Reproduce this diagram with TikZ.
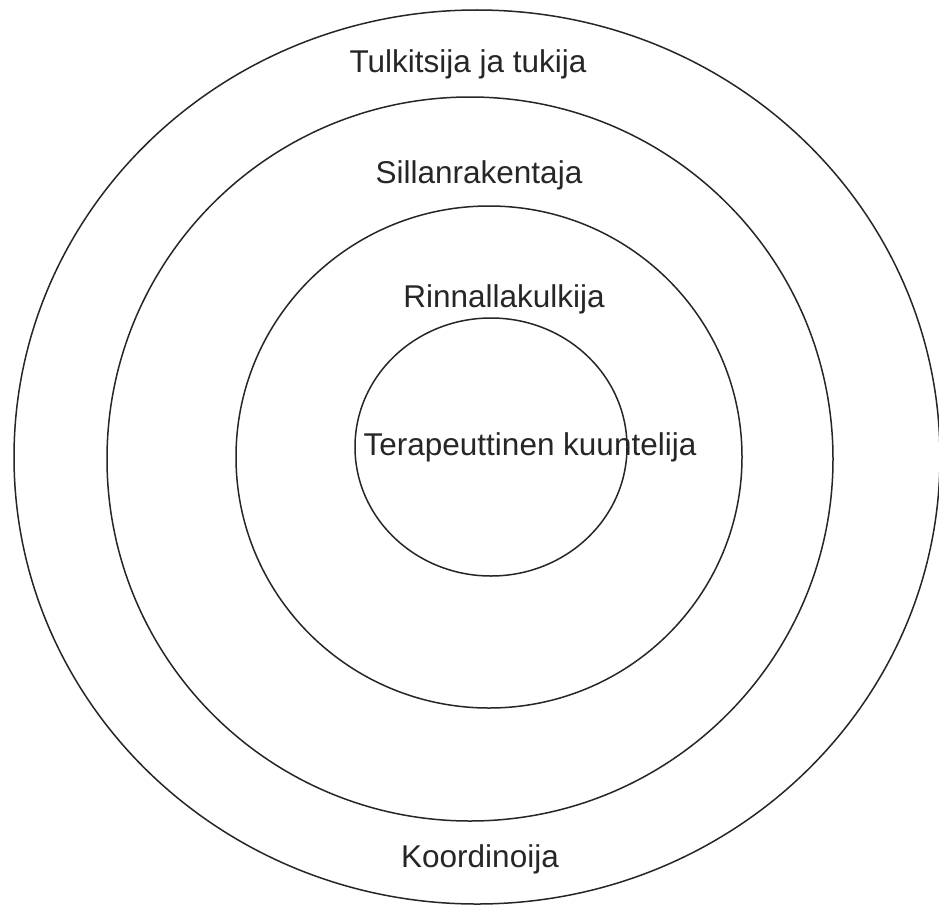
\documentclass[tikz,border=0pt]{standalone}
\usepackage{fontspec}
\setmainfont{Liberation Sans}
\begin{document}
\begin{tikzpicture}[x=1pt,y=-1pt,
  ring/.style={draw=black!85,line width=1.5pt},
  lbl/.style={anchor=base,inner sep=0pt,font=\fontsize{31.5}{36}\selectfont,text=black!85}]
\useasboundingbox[fill=white] (0,0) rectangle (939,907);
\draw[ring] (477,457) ellipse [x radius=463,y radius=447];
\draw[ring] (470,459) ellipse [x radius=363,y radius=362];
\draw[ring] (489,457) ellipse [x radius=253,y radius=251];
\draw[ring] (491,447) ellipse [x radius=136,y radius=129];
\node[lbl] (t1) at (468,72) {Tulkitsija ja tukija};
\node[lbl] (t2) at (479,183) {Sillanrakentaja};
\node[lbl] (t3) at (504,307) {Rinnallakulkija};
\node[lbl] (t4) at (530,455) {Terapeuttinen kuuntelija};
\node[lbl] (t5) at (480,867) {Koordinoija};
\end{tikzpicture}
\end{document}
